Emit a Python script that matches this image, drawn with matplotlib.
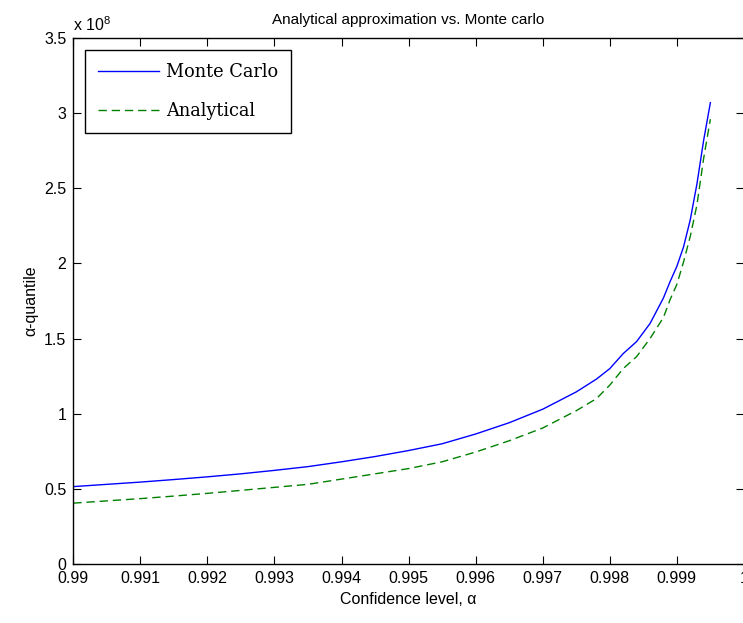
import matplotlib
matplotlib.use("Agg")
import matplotlib.pyplot as plt
from matplotlib.ticker import FixedLocator

alpha = [0.9900, 0.9905, 0.9910, 0.9915, 0.9920, 0.9925, 0.9930, 0.9935, 0.9940,
         0.9945, 0.9950, 0.9955, 0.9960, 0.9965, 0.9970, 0.9975, 0.9978, 0.9980,
         0.9982, 0.9984, 0.9986, 0.9988, 0.9989, 0.9990, 0.9991, 0.9992, 0.9993,
         0.9994, 0.9995]
monte_carlo = [0.515, 0.530, 0.545, 0.562, 0.580, 0.600, 0.623, 0.648, 0.680,
               0.715, 0.755, 0.800, 0.865, 0.940, 1.030, 1.145, 1.230, 1.300,
               1.400, 1.480, 1.600, 1.770, 1.880, 1.980, 2.110, 2.290, 2.530,
               2.820, 3.070]
analytical = [0.405, 0.420, 0.435, 0.452, 0.470, 0.490, 0.510, 0.530, 0.565,
              0.600, 0.635, 0.680, 0.745, 0.820, 0.905, 1.020, 1.100, 1.190,
              1.300, 1.380, 1.500, 1.640, 1.760, 1.860, 2.010, 2.180, 2.390,
              2.700, 2.960]
scale = 1e8
mc_vals = [v * scale for v in monte_carlo]
an_vals = [v * scale for v in analytical]

x_ticks = [0.99, 0.991, 0.992, 0.993, 0.994, 0.995, 0.996, 0.997, 0.998, 0.999, 1.0]
x_tick_labels = ["0.99", "0.991", "0.992", "0.993", "0.994", "0.995", "0.996",
                 "0.997", "0.998", "0.999", "1"]
y_ticks = [0, 0.5e8, 1e8, 1.5e8, 2e8, 2.5e8, 3e8, 3.5e8]
y_tick_labels = ["0", "0.5", "1", "1.5", "2", "2.5", "3", "3.5"]

sans = ["Liberation Sans", "DejaVu Sans"]
serif = ["DejaVu Serif", "Liberation Serif"]
plt.rcParams['font.family'] = sans
plt.rcParams['mathtext.fontset'] = 'custom'
plt.rcParams['mathtext.rm'] = 'Liberation Sans'

fig = plt.figure(figsize=(7.43, 6.23), dpi=100)
ax = fig.add_axes([73.3 / 743, 59 / 623, 670.6 / 743, 526 / 623])

ax.plot(alpha, mc_vals, color=(0, 0, 1), lw=1.0, label="Monte Carlo")
ax.plot(alpha, an_vals, color=(0, 0.5, 0), lw=1.0, ls=(0, (6, 3.5)), label="Analytical")

ax.set_xlim(0.99, 1.0)
ax.set_ylim(0, 3.5e8)
ax.xaxis.set_major_locator(FixedLocator(x_ticks))
ax.set_xticklabels(x_tick_labels)
ax.yaxis.set_major_locator(FixedLocator(y_ticks))
ax.set_yticklabels(y_tick_labels)
ax.tick_params(direction='in', length=6, width=0.8, top=True, right=True,
               labelsize=11.5, pad=5)
for s in ax.spines.values():
    s.set_linewidth(1.0)

ax.set_title("Analytical approximation vs. Monte carlo", fontsize=11, pad=10)
ax.set_xlabel("Confidence level, α", fontsize=11.5, labelpad=4)
ax.set_ylabel("α-quantile", fontsize=11.5, labelpad=4)
ax.text(0.0, 1.008, r"x 10$^{8}$", transform=ax.transAxes, fontsize=11.5,
        ha='left', va='bottom')

leg = ax.legend(loc='upper left', bbox_to_anchor=(0.0174, 0.977),
                prop={'family': serif, 'size': 12.8},
                fancybox=False, edgecolor='black', framealpha=1, handlelength=3.4,
                handletextpad=0.4, borderpad=0.75, labelspacing=1.15, borderaxespad=0)
leg.get_frame().set_linewidth(1.0)

fig.savefig("out.png", dpi=100)
